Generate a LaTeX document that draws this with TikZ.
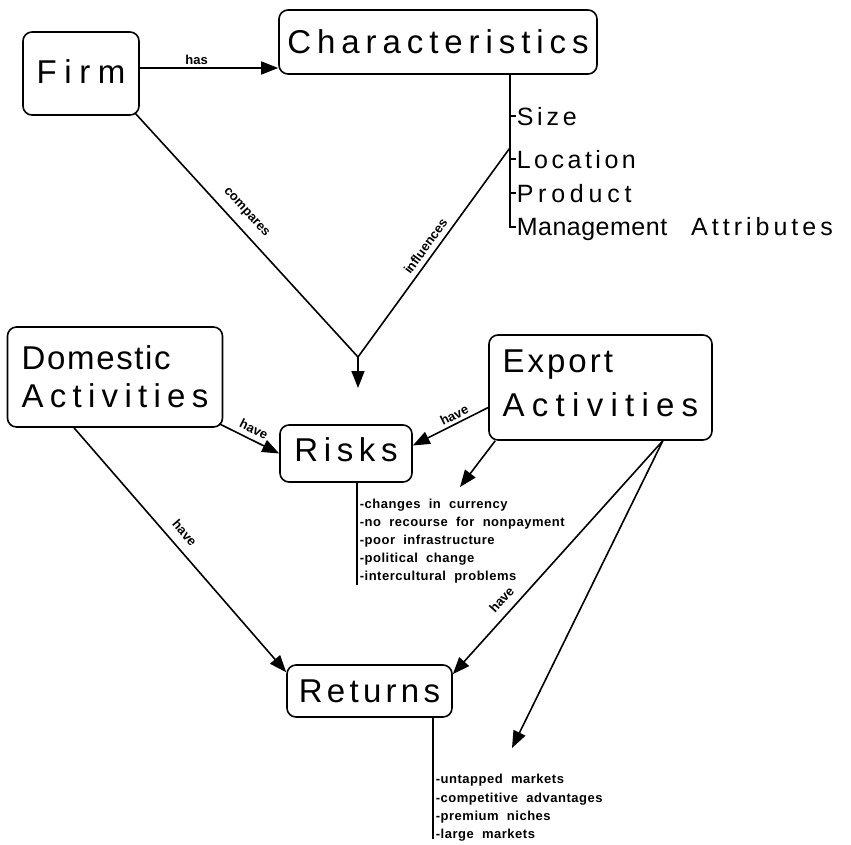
\documentclass[tikz,border=0pt]{standalone}
\usepackage{fontspec}
\setmainfont{Liberation Sans}
\newfontfamily\labfont{Liberation Sans}[LetterSpace=4,WordSpace=2]
\newfontfamily\edgefont{Liberation Sans}
\usetikzlibrary{arrows.meta,calc}
\newcommand{\spc}[2]{{\addfontfeatures{LetterSpace=#1}#2}}
\begin{document}
\begin{tikzpicture}[x=1pt,y=-1pt,
  line width=1.6pt,
  box/.style={draw, rounded corners=9pt, inner sep=0pt, line width=1.6pt,
    font=\fontsize{33}{38}\selectfont},
  arr/.style={-{Triangle[length=17pt,width=13pt]}},
  lab/.style={font=\edgefont\bfseries\fontsize{13}{13}\selectfont, inner sep=2pt},
  item/.style={anchor=base west, inner sep=0pt, font=\fontsize{25}{25}\selectfont},
  small/.style={anchor=base west, inner sep=0pt, font=\labfont\bfseries\fontsize{13}{13}\selectfont}]
\useasboundingbox (0,0) rectangle (851,844);

% boxes
\node[box, minimum width=116pt, minimum height=83pt] (firm) at (81,73.5)
  {\spc{23}{Firm}\rule[-4pt]{0pt}{0pt}};
\node[box, minimum width=318pt, minimum height=64pt] (char) at (438,42)
  {\spc{18}{Characteristics}};
\node[box, minimum width=215pt, minimum height=100pt, align=left] (dom) at (115,377)
  {\spc{5}{Domestic}\\\spc{19}{Activities}};
\node[box, minimum width=223pt, minimum height=105pt, align=left,
  font=\fontsize{33}{44}\selectfont] (exp) at (600.5,387.5)
  {\spc{9}{Export}\\\spc{22}{Activities}\rule[-8pt]{0pt}{0pt}};
\node[box, minimum width=132pt, minimum height=57pt] (risks) at (346,453.5)
  {\spc{17}{Risks}\rule[-8pt]{0pt}{0pt}};
\node[box, minimum width=165pt, minimum height=52pt] (ret) at (369.5,691)
  {\spc{13}{Returns}};

% characteristics list
\coordinate (cl) at ($(char.south)+(72,0)$);
\node[item] (c1) at (516,125) {\spc{15}{Size}};
\node[item] (c2) at (516,168) {\spc{14}{Location}};
\node[item] (c3) at (516,202) {\spc{19}{Product}};
\node[item] (c4) at (516,235) {\spc{2}{Management}\hspace{24pt}\spc{16}{Attributes}};
\draw[line width=1.3pt] (cl) |- ([yshift=8pt]c4.base west);
\foreach \n in {c1,c2,c3}
  \draw[line width=1.3pt] ([yshift=9pt]\n.base west -| cl) -- ([yshift=9pt]\n.base west);
\coordinate (ci) at ($(cl)+(0,73)$);

% risks list
\coordinate (rl) at ($(risks.south)+(11,0)$);
\coordinate (rlend) at ($(rl)+(0,102)$);
\node[small] (r1) at (359,508) {-changes in currency};
\node[small] (r2) at (359,526) {-no recourse for nonpayment};
\node[small] (r3) at (359,544) {-poor infrastructure};
\node[small] (r4) at (359,562) {-political change};
\node[small] (r5) at (359,580) {-intercultural problems};
\draw[line width=1.3pt] (rl) -- (rlend);

% returns list
\coordinate (tl) at ($(ret.south)+(63.5,0)$);
\coordinate (tlend) at ($(tl)+(0,121)$);
\node[small] (t1) at (435,783) {-untapped markets};
\node[small] (t2) at (435,802) {-competitive advantages};
\node[small] (t3) at (435,820) {-premium niches};
\node[small] (t4) at (435,838) {-large markets};
\draw[line width=1.3pt] (tl) -- (tlend);

% connectors
\coordinate (v) at (358,357);
\coordinate (vt) at (358,388);
\coordinate (e1) at (460,487);
\coordinate (e2) at (512,748);

\draw[arr] ([yshift=5.5pt]firm.east) -- node[lab, above=1pt, pos=0.41] {has}
  ([yshift=5.5pt]firm.east -| char.west);
\draw ([shift={(-5pt,3pt)}]firm.south east) -- node[lab, sloped, above=7pt, pos=0.45] {compares} (v);
\draw (v) -- node[lab, sloped, above=3pt, pos=0.5] {influences} (ci);
\draw[arr] (v) -- (vt);

\draw[arr] ([shift={(-4pt,4pt)}]dom.south east) -- node[lab, sloped, above=3pt, pos=0.5] {have} (risks.west);
\draw[arr] ([xshift=-41pt]dom.south) -- node[lab, sloped, above=7pt, pos=0.47] {have} ([yshift=-8pt]ret.north west);

\draw[arr] ([yshift=-20pt]exp.west) -- node[lab, sloped, above=1pt, pos=0.4] {have} ([yshift=8pt]risks.east);
\draw[arr] ([xshift=7pt]exp.south west) -- (e1);
\draw[arr] ([xshift=-50pt]exp.south east) -- node[lab, sloped, above=6pt, pos=0.72] {have} ([yshift=-10pt]ret.north east);
\draw[arr] ([xshift=-50pt]exp.south east) -- (e2);
\end{tikzpicture}
\end{document}
